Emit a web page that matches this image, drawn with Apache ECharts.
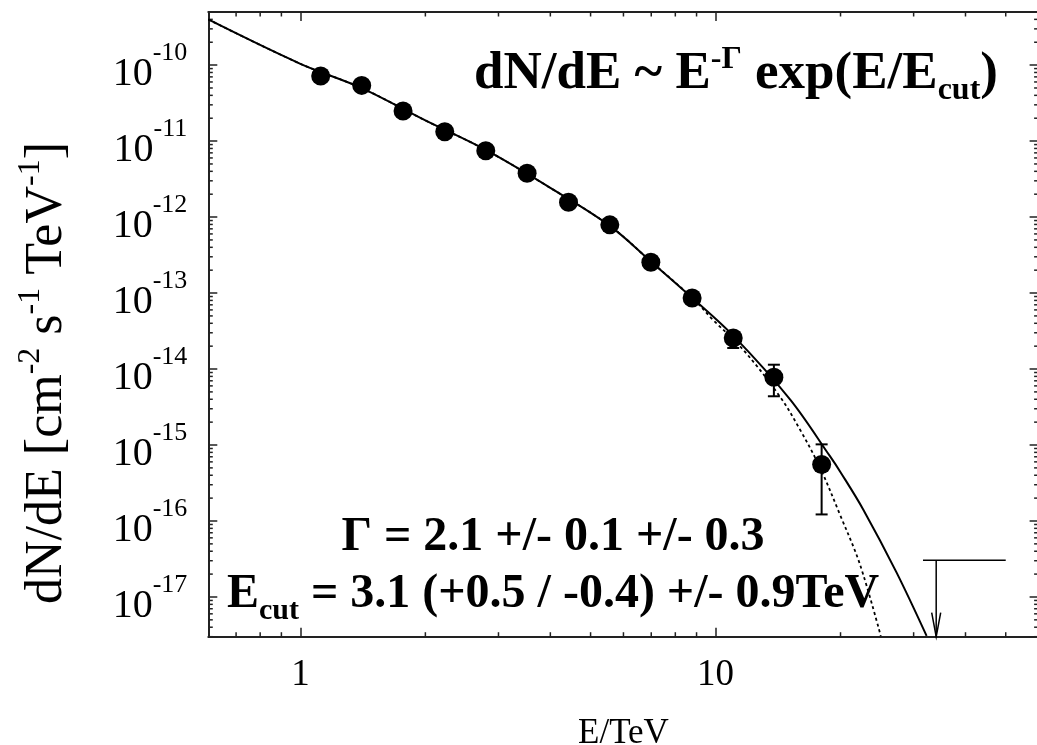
<!DOCTYPE html>
<html>
<head>
<meta charset="utf-8">
<script src="https://cdn.jsdelivr.net/npm/echarts@6/dist/echarts.min.js"></script>
<style>
  html, body { margin: 0; padding: 0; background: #fff; }
  #chart { width: 1037px; height: 745px; }
</style>
</head>
<body>
<div id="chart"></div>
<script>
// Measured spectrum points (E in TeV, dN/dE in cm^-2 s^-1 TeV^-1)
const energy = [1.119, 1.405, 1.767, 2.227, 2.796, 3.516, 4.424, 5.563, 6.985, 8.781, 11.03, 13.82, 18.01];
const flux = [7.17e-11, 5.41e-11, 2.49e-11, 1.33e-11, 7.48e-12, 3.78e-12, 1.57e-12, 7.90e-13, 2.55e-13, 8.60e-14, 2.56e-14, 7.78e-15, 5.55e-16];

// Visible error bars
const errEnergy = [11.03, 13.82, 18.01];
const errLow = [1.89e-14, 4.38e-15, 1.22e-16];
const errHigh = [2.9e-14, 1.14e-14, 1.02e-15];

// Upper limit
const ulEnergy = [34.0];
const ulFlux = [3.05e-17];
const ulBarFrom = [31.6];
const ulBarTo = [50.0];

// Fitted cut-off power law (solid)
const fitE = [0.6, 1.0, 1.405, 2.0, 2.796, 4.0, 5.563, 7.0, 8.78, 11.03, 15.13, 18.86, 20.0, 22.68, 27.3, 32.24];
const fitF = [3.99e-10, 1.04e-10, 4.99e-11, 1.87e-11, 7.64e-12, 2.42e-12, 7.66e-13, 2.58e-13, 8.68e-14, 2.75e-14, 3.96e-15, 7.13e-16, 4.39e-16, 1.42e-16, 2.09e-17, 3.07e-18];

// Alternative curve (dotted)
const altE = [0.6, 1.0, 1.405, 2.0, 2.796, 4.0, 5.563, 7.0, 8.78, 9.85, 11.65, 14.29, 15.97, 17.84, 19.93, 22.27, 25.0];
const altF = [3.99e-10, 1.04e-10, 4.99e-11, 1.87e-11, 7.64e-12, 2.42e-12, 7.66e-13, 2.58e-13, 8.68e-14, 4.46e-14, 1.80e-14, 4.34e-15, 1.60e-15, 5.06e-16, 1.22e-16, 2.69e-17, 3.07e-18];

// Axis ranges and minor tick positions
const xMin = 0.6, xMax = 60;
const yMin = 3e-18, yMax = 5e-10;
const xMinorTicks = [0.7, 0.8, 0.9, 2, 3, 4, 5, 6, 7, 8, 9, 20, 30, 40, 50];
const yDecades = [1e-18, 1e-17, 1e-16, 1e-15, 1e-14, 1e-13, 1e-12, 1e-11, 1e-10];
const mantissas = [2, 3, 4, 5, 6, 7, 8, 9];

const yMinorTicks = [];
yDecades.forEach(d => mantissas.forEach(m => {
  const v = m * d;
  if (v > yMin && v < yMax) yMinorTicks.push(v);
}));

const FONT = '"Liberation Serif", "Times New Roman", serif';
const INK = '#000';
const AXIS = '#222';

const isPow10 = v => Math.abs(Math.log10(v) - Math.round(Math.log10(v))) < 1e-6;

const chart = echarts.init(document.getElementById('chart'), null, { renderer: 'canvas' });

const tickData = [];
xMinorTicks.forEach(v => { tickData.push([v, 0]); });
yMinorTicks.forEach(v => { tickData.push([v, 1]); });

function axisCommon(extra) {
  return Object.assign({
    type: 'log',
    logBase: 10,
    axisLine: { show: true, lineStyle: { color: AXIS, width: 2 } },
    axisTick: { show: true, inside: true, length: 9, lineStyle: { color: AXIS, width: 1.5 } },
    splitLine: { show: false },
    minorTick: { show: false },
    minorSplitLine: { show: false }
  }, extra);
}

const option = {
  backgroundColor: '#fff',
  animation: false,
  grid: { left: 208.3, top: 12, right: -1.6, bottom: 108.3, containLabel: false, outerBoundsMode: 'none' },
  xAxis: [
    axisCommon({
      position: 'bottom', min: xMin, max: xMax,
      name: 'E/TeV', nameLocation: 'middle', nameGap: 80,
      nameTextStyle: { fontFamily: FONT, fontSize: 35, color: INK },
      axisLabel: {
        margin: 20, fontFamily: FONT, fontSize: 37, color: INK,
        formatter: v => isPow10(v) ? String(Math.round(v)) : ''
      }
    }),
    axisCommon({
      position: 'top', min: xMin, max: xMax,
      axisLabel: { show: false }
    })
  ],
  yAxis: [
    axisCommon({
      position: 'left', min: yMin, max: yMax,
      axisLabel: {
        margin: 21, fontFamily: FONT, color: INK,
        padding: [0, 0, 9, 0],
        formatter: v => isPow10(v) ? '{b|10}{s|' + Math.round(Math.log10(v)) + '}' : '',
        rich: {
          b: { fontFamily: FONT, fontSize: 40, lineHeight: 40, color: INK, verticalAlign: 'top', padding: [14, 0, 0, 0] },
          s: { fontFamily: FONT, fontSize: 26, lineHeight: 26, color: INK, verticalAlign: 'top' }
        }
      }
    }),
    axisCommon({
      position: 'right', min: yMin, max: yMax,
      axisLabel: { show: false }
    })
  ],
  graphic: [
    {
      type: 'text', x: 41, y: 373, rotation: Math.PI / 2,
      style: {
        text: '{t|dN/dE [cm}{s|-2}{t| s}{s|-1}{t| TeV}{s|-1}{t|]}',
        align: 'center', verticalAlign: 'middle', fill: INK,
        rich: {
          t: { fontFamily: FONT, fontSize: 52, lineHeight: 52, fill: INK, verticalAlign: 'top', padding: [6, 0, 0, 0] },
          s: { fontFamily: FONT, fontSize: 32, lineHeight: 32, fill: INK, verticalAlign: 'top' }
        }
      }
    },
    {
      type: 'text', x: 736, y: 60,
      style: {
        text: '{m|dN/dE ~ E}{p|-Γ}{m| exp(E/E}{d|cut}{m|)}',
        align: 'center', verticalAlign: 'middle', fill: INK,
        rich: {
          m: { fontFamily: FONT, fontWeight: 'bold', fontSize: 53, lineHeight: 53, fill: INK, verticalAlign: 'top', padding: [14, 0, 0, 0] },
          p: { fontFamily: FONT, fontWeight: 'bold', fontSize: 32, lineHeight: 32, fill: INK, verticalAlign: 'top', padding: [10, 0, 0, 0] },
          d: { fontFamily: FONT, fontWeight: 'bold', fontSize: 32, lineHeight: 32, fill: INK, verticalAlign: 'top', padding: [41, 0, 0, 0] }
        }
      }
    },
    {
      type: 'text', x: 553, y: 538,
      style: {
        text: 'Γ = 2.1 +/- 0.1 +/- 0.3',
        align: 'center', verticalAlign: 'middle', fill: INK,
        font: 'bold 48px ' + FONT
      }
    },
    {
      type: 'text', x: 553, y: 595,
      style: {
        text: '{m|E}{d|cut}{m| = 3.1 (+0.5 / -0.4) +/- 0.9TeV}',
        align: 'center', verticalAlign: 'middle', fill: INK,
        rich: {
          m: { fontFamily: FONT, fontWeight: 'bold', fontSize: 48, lineHeight: 48, fill: INK, verticalAlign: 'top' },
          d: { fontFamily: FONT, fontWeight: 'bold', fontSize: 30, lineHeight: 30, fill: INK, verticalAlign: 'top', padding: [25, 0, 0, 0] }
        }
      }
    }
  ],
  series: [
    {
      type: 'custom',
      name: 'minor ticks',
      xAxisIndex: 0, yAxisIndex: 0,
      silent: true,
      data: tickData,
      encode: { x: -1, y: -1 },
      renderItem(params, api) {
        const cs = params.coordSys;
        const v = api.value(0);
        const kind = api.value(1);
        const len = 4.5;
        const st = { stroke: AXIS, lineWidth: 1.5 };
        if (kind === 0) {
          const px = api.coord([v, yMin])[0];
          return { type: 'group', children: [
            { type: 'line', shape: { x1: px, y1: cs.y + cs.height, x2: px, y2: cs.y + cs.height - len }, style: st },
            { type: 'line', shape: { x1: px, y1: cs.y, x2: px, y2: cs.y + len }, style: st }
          ] };
        }
        const py = api.coord([xMin, v])[1];
        return { type: 'group', children: [
          { type: 'line', shape: { x1: cs.x, y1: py, x2: cs.x + len, y2: py }, style: st },
          { type: 'line', shape: { x1: cs.x + cs.width, y1: py, x2: cs.x + cs.width - len, y2: py }, style: st }
        ] };
      },
      z: 1
    },
    {
      type: 'line',
      name: 'fit',
      data: fitE.map((e, i) => [e, fitF[i]]),
      showSymbol: false,
      smooth: 0.35,
      lineStyle: { color: INK, width: 2 },
      clip: true,
      z: 2
    },
    {
      type: 'line',
      name: 'alternative',
      data: altE.map((e, i) => [e, altF[i]]),
      showSymbol: false,
      smooth: 0.35,
      lineStyle: { color: INK, width: 1.8, type: [3, 3] },
      clip: true,
      z: 2
    },
    {
      type: 'custom',
      name: 'errors',
      data: errEnergy.map((e, i) => [e, errLow[i], errHigh[i]]),
      encode: { x: 0, y: [1, 2] },
      renderItem(params, api) {
        const e = api.value(0);
        const lo = api.coord([e, api.value(1)]);
        const hi = api.coord([e, api.value(2)]);
        const w = 6;
        const st = { stroke: INK, lineWidth: 2 };
        return { type: 'group', children: [
          { type: 'line', shape: { x1: lo[0], y1: lo[1], x2: hi[0], y2: hi[1] }, style: st },
          { type: 'line', shape: { x1: lo[0] - w, y1: lo[1], x2: lo[0] + w, y2: lo[1] }, style: st },
          { type: 'line', shape: { x1: hi[0] - w, y1: hi[1], x2: hi[0] + w, y2: hi[1] }, style: st }
        ] };
      },
      z: 3
    },
    {
      type: 'custom',
      name: 'upper limit',
      data: ulEnergy.map((e, i) => [e, ulFlux[i], ulBarFrom[i], ulBarTo[i]]),
      encode: { x: 0, y: 1 },
      renderItem(params, api) {
        const e = api.value(0), ul = api.value(1);
        const top = api.coord([e, ul]);
        const bot = api.coord([e, yMin]);
        const l = api.coord([api.value(2), ul]);
        const r = api.coord([api.value(3), ul]);
        const st = { stroke: INK, lineWidth: 1.5, fill: null };
        return { type: 'group', children: [
          { type: 'line', shape: { x1: l[0], y1: l[1], x2: r[0], y2: r[1] }, style: st },
          { type: 'line', shape: { x1: top[0], y1: top[1], x2: bot[0], y2: bot[1] }, style: st },
          { type: 'polyline', shape: { points: [[bot[0] - 4.5, bot[1] - 24], [bot[0], bot[1]], [bot[0] + 4.5, bot[1] - 24]] }, style: st }
        ] };
      },
      z: 3
    },
    {
      type: 'scatter',
      name: 'data',
      data: energy.map((e, i) => [e, flux[i]]),
      symbol: 'circle',
      symbolSize: 19,
      itemStyle: { color: INK, opacity: 1 },
      z: 4
    }
  ]
};

chart.setOption(option);
</script>
</body>
</html>
